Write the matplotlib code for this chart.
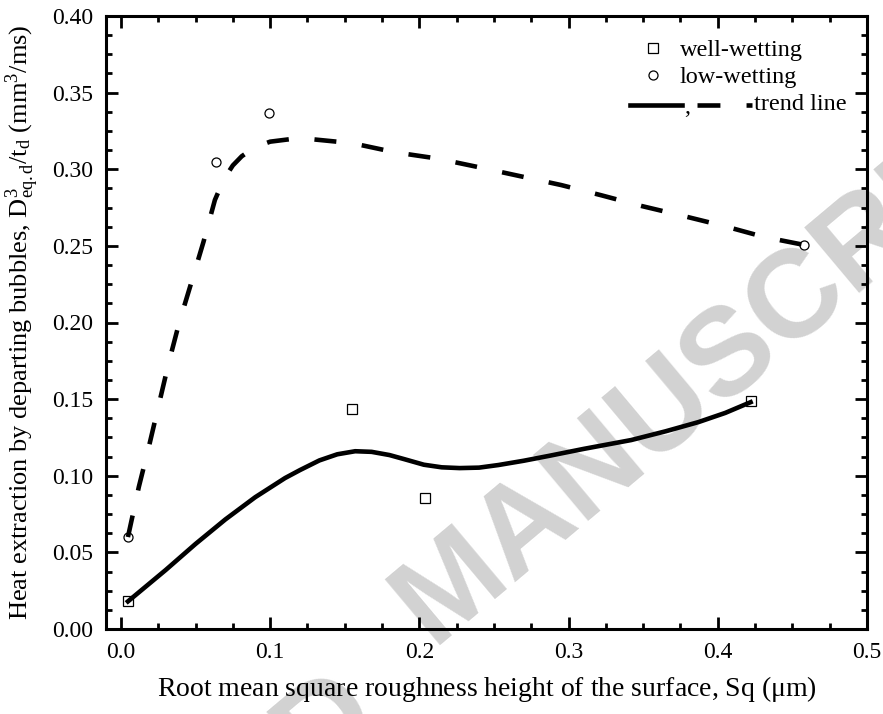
import matplotlib
matplotlib.use("Agg")
import matplotlib.pyplot as plt
from matplotlib.lines import Line2D
from matplotlib.ticker import MultipleLocator

plt.rcParams["font.family"] = "Liberation Serif"
plt.rcParams["mathtext.fontset"] = "custom"
plt.rcParams["mathtext.rm"] = "Liberation Serif"
plt.rcParams["mathtext.it"] = "Liberation Serif:italic"

# measured points
well_x = [0.0047, 0.155, 0.204, 0.422]
well_y = [0.018, 0.1436, 0.0855, 0.1488]
low_x = [0.0047, 0.064, 0.099, 0.458]
low_y = [0.060, 0.305, 0.337, 0.2506]

# trend lines
trend_well_x = [0.0047, 0.03, 0.05, 0.07, 0.09, 0.11, 0.12, 0.133, 0.145, 0.157, 0.168,
                0.18, 0.19, 0.203, 0.215, 0.227, 0.24, 0.253, 0.27, 0.287, 0.31, 0.342,
                0.365, 0.387, 0.405, 0.422]
trend_well_y = [0.018, 0.0385, 0.0555, 0.0715, 0.086, 0.0985, 0.1037, 0.110, 0.114, 0.116, 0.1156,
                0.1135, 0.1108, 0.1072, 0.1055, 0.105, 0.1053, 0.107, 0.1098, 0.113, 0.1175, 0.1233,
                0.129, 0.135, 0.141, 0.148]
trend_low_x = [0.0047, 0.012, 0.0187, 0.0253, 0.032, 0.039, 0.0467, 0.0553, 0.063, 0.069,
               0.075, 0.081, 0.087, 0.093, 0.1, 0.114, 0.128, 0.155, 0.184, 0.212, 0.239,
               0.267, 0.295, 0.322, 0.349, 0.377, 0.404, 0.431, 0.458]
trend_low_y = [0.060, 0.0927, 0.1188, 0.146, 0.1736, 0.1997, 0.2245, 0.2525, 0.28, 0.2935,
               0.3025, 0.3085, 0.3125, 0.3155, 0.318, 0.3197, 0.3196, 0.317, 0.311, 0.307, 0.3015,
               0.2956, 0.2897, 0.283, 0.276, 0.2695, 0.263, 0.2558, 0.2506]

W, H = 883, 714
fig = plt.figure(figsize=(W / 100, H / 100), dpi=100)
ax = fig.add_axes([106 / W, 1 - 629 / H, (867 - 106) / W, (629 - 16) / H])

# watermark
fig.text(432 / W, 1 - 645 / H, "MANUSCRIPT", fontsize=90, fontweight="bold",
         family="Liberation Sans", color="#d2d2d2", rotation=40, rotation_mode="anchor",
         ha="left", va="baseline", zorder=-1)
fig.text(385 / W, 1 - 722 / H, "ACCEPTED", fontsize=90, fontweight="bold",
         family="Liberation Sans", color="#d2d2d2", rotation=40, rotation_mode="anchor",
         ha="right", va="baseline", zorder=-1)
ax.patch.set_alpha(0)

ax.plot(well_x, well_y, "s", ms=6.5, mfc="white", mec="black", mew=0.9, zorder=2, label="well-wetting")
ax.plot(low_x, low_y, "o", ms=6.5, mfc="white", mec="black", mew=0.9, zorder=2, label="low-wetting")
ax.plot(trend_well_x, trend_well_y, "-", color="black", lw=3.3, zorder=3)
ax.plot(trend_low_x, trend_low_y, color="black", lw=3.3, linestyle=(0, (4.8, 5.6)), zorder=3)

ax.set_xlim(-0.01, 0.5)
ax.set_ylim(0, 0.4)
ax.xaxis.set_major_locator(MultipleLocator(0.1))
ax.xaxis.set_minor_locator(MultipleLocator(0.025))
ax.yaxis.set_major_locator(MultipleLocator(0.05))
ax.yaxis.set_minor_locator(MultipleLocator(0.0125))
ax.xaxis.set_major_formatter(matplotlib.ticker.FormatStrFormatter("%.1f"))
ax.yaxis.set_major_formatter(matplotlib.ticker.FormatStrFormatter("%.2f"))
ax.tick_params(which="both", direction="in", top=True, right=True, width=2, labelsize=17)
ax.tick_params(which="major", length=8.5)
ax.tick_params(which="minor", length=4)
ax.tick_params(axis="x", pad=9)
ax.tick_params(axis="y", pad=9)
for s in ax.spines.values():
    s.set_linewidth(2.2)

ax.set_xlabel(r"Root mean square roughness height of the surface, Sq ($\mathrm{\mu}$m)", fontsize=20, labelpad=8)
ax.set_ylabel(r"Heat extraction by departing bubbles, $\mathrm{D^3_{eq.d}/t_d}$ (mm$^3$/ms)", fontsize=19, labelpad=8)

ax.legend(loc="upper left", bbox_to_anchor=((641 - 106) / 761, 0.962), frameon=False, fontsize=17.5,
          handlelength=1.0, handletextpad=0.6, labelspacing=0.2, borderpad=0, borderaxespad=0)

# third legend row: solid , dashed  trend line
y3 = 1 - 105 / H
fig.add_artist(Line2D([630 / W, 682 / W], [y3, y3], color="black", lw=3.3))
fig.text(684 / W, y3 - 0.004, ",", fontsize=17.5, ha="left", va="center")
fig.add_artist(Line2D([697 / W, 752 / W], [y3, y3], color="black", lw=3.3, linestyle=(0, (5, 5.7))))
fig.text(754 / W, y3, "trend line", fontsize=17.5, ha="left", va="center")

fig.savefig("out.png", dpi=100)
